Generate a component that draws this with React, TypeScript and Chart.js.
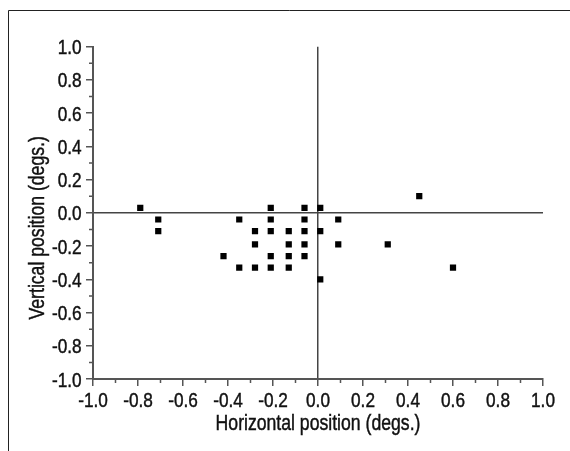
import React, { useEffect, useRef } from 'react';
import { Chart, registerables } from 'chart.js';

Chart.register(...registerables);

// Data: horizontal / vertical positions (degs.)
const xValues = [
  -0.79, -0.71, -0.71, -0.42, -0.35, -0.35, -0.28, -0.28, -0.28, -0.21,
  -0.21, -0.21, -0.21, -0.21, -0.13, -0.13, -0.13, -0.13, -0.06, -0.06,
  -0.06, -0.06, -0.06, 0.01, 0.01, 0.01, 0.09, 0.09, 0.31, 0.45, 0.6,
];
const yValues = [
  0.03, -0.04, -0.11, -0.26, -0.04, -0.33, -0.11, -0.19, -0.33, 0.03,
  -0.04, -0.11, -0.26, -0.33, -0.11, -0.19, -0.26, -0.33, 0.03, -0.04,
  -0.11, -0.19, -0.26, 0.03, -0.11, -0.4, -0.04, -0.19, -0.19, 0.1, -0.33,
];
const majorTicks = [-1.0, -0.8, -0.6, -0.4, -0.2, 0.0, 0.2, 0.4, 0.6, 0.8, 1.0];
const minorTicks = [-0.9, -0.7, -0.5, -0.3, -0.1, 0.1, 0.3, 0.5, 0.7, 0.9];
const xTitle = 'Horizontal position (degs.)';
const yTitle = 'Vertical position (degs.)';

const FONT = "'Liberation Sans', Arial, sans-serif";
const NARROW = 0.82; // horizontal squeeze to mimic a condensed face
const AXIS_COLOR = '#555';
const ZERO_COLOR = '#444';
const TEXT_COLOR = '#111';

const fmt = (v: number) => (Math.abs(v) < 1e-9 ? '0.0' : Number(v).toFixed(1));

const framePlugin = {
  id: 'frame',
  beforeDraw(chart: any) {
    const ctx = chart.ctx;
    ctx.save();
    ctx.strokeStyle = '#222';
    ctx.lineWidth = 1;
    ctx.beginPath();
    ctx.moveTo(8.5, chart.height);
    ctx.lineTo(8.5, 10.5);
    ctx.lineTo(chart.width, 10.5);
    ctx.stroke();
    ctx.restore();
  },
};

const minorTickPlugin = {
  id: 'minorTicks',
  afterDraw(chart: any) {
    const ctx = chart.ctx;
    const xs = chart.scales.x;
    const ys = chart.scales.y;
    const area = chart.chartArea;
    ctx.save();
    ctx.strokeStyle = AXIS_COLOR;
    ctx.lineWidth = 1.5;
    ctx.beginPath();
    for (const v of minorTicks) {
      const px = xs.getPixelForValue(v);
      ctx.moveTo(px, area.bottom);
      ctx.lineTo(px, area.bottom + 4);
      const py = ys.getPixelForValue(v);
      ctx.moveTo(area.left - 4, py);
      ctx.lineTo(area.left, py);
    }
    ctx.stroke();
    ctx.restore();
  },
};

function narrowText(ctx: any, text: string, x: number, y: number, align: string, rotate = 0) {
  ctx.save();
  ctx.translate(x, y);
  if (rotate) ctx.rotate(rotate);
  ctx.scale(NARROW, 1);
  ctx.textAlign = align;
  ctx.textBaseline = 'alphabetic';
  ctx.fillText(text, 0, 0);
  ctx.strokeText(text, 0, 0);
  ctx.restore();
}

const labelPlugin = {
  id: 'narrowLabels',
  afterDraw(chart: any) {
    const ctx = chart.ctx;
    const xs = chart.scales.x;
    const ys = chart.scales.y;
    const area = chart.chartArea;
    ctx.save();
    ctx.fillStyle = TEXT_COLOR;
    ctx.strokeStyle = TEXT_COLOR;
    ctx.lineWidth = 0.45;
    ctx.font = `21px ${FONT}`;
    for (const t of xs.ticks) {
      const px = xs.getPixelForValue(t.value);
      narrowText(ctx, fmt(t.value), px, area.bottom + 28.3, 'center');
    }
    for (const t of ys.ticks) {
      const py = ys.getPixelForValue(t.value);
      narrowText(ctx, fmt(t.value), area.left - 11.3, py + 7.5, 'right');
    }
    ctx.font = `21.5px ${FONT}`;
    narrowText(ctx, xTitle, (area.left + area.right) / 2, area.bottom + 51, 'center');
    narrowText(ctx, yTitle, 43.5, (area.top + area.bottom) / 2 + 15, 'center', -Math.PI / 2);
    ctx.restore();
  },
};

function axisOptions(isX: boolean) {
  return {
    type: 'linear',
    min: -1,
    max: 1,
    afterBuildTicks(scale: any) {
      scale.ticks = majorTicks.map((v) => ({ value: v }));
    },
    afterFit(scale: any) {
      if (isX) scale.height = 72;
      else scale.width = 93;
    },
    ticks: { display: false },
    grid: {
      drawOnChartArea: true,
      drawTicks: true,
      tickLength: 7,
      color: (ctx: any) => (ctx.tick && Math.abs(ctx.tick.value) < 1e-9 ? ZERO_COLOR : 'rgba(0,0,0,0)'),
      lineWidth: 1.5,
      tickColor: AXIS_COLOR,
      tickWidth: 1.5,
    },
    border: { display: true, color: AXIS_COLOR, width: 2 },
    title: { display: false },
  };
}

export default function App() {
  const canvasRef = useRef<HTMLCanvasElement | null>(null);

  useEffect(() => {
    if (!canvasRef.current) return;
    const points = xValues.map((x, i) => ({ x, y: yValues[i] }));
    const chart = new Chart(canvasRef.current, {
      type: 'scatter',
      data: {
        datasets: [
          {
            data: points,
            pointStyle: 'rect',
            pointRadius: 4.4,
            pointHoverRadius: 4.4,
            backgroundColor: '#000',
            borderColor: '#000',
            borderWidth: 0,
          },
        ],
      },
      options: {
        responsive: false,
        animation: false,
        layout: { padding: { left: 0, top: 46.7, right: 27, bottom: 0 } },
        plugins: {
          legend: { display: false },
          tooltip: { enabled: false },
        },
        scales: {
          x: axisOptions(true) as any,
          y: axisOptions(false) as any,
        },
      },
      plugins: [framePlugin, minorTickPlugin, labelPlugin],
    });
    return () => chart.destroy();
  }, []);

  return (
    <div style={{ position: 'absolute', left: 0, top: 0, width: 570, height: 451, background: '#fff' }}>
      <canvas ref={canvasRef} width={570} height={451} style={{ display: 'block' }} />
    </div>
  );
}
